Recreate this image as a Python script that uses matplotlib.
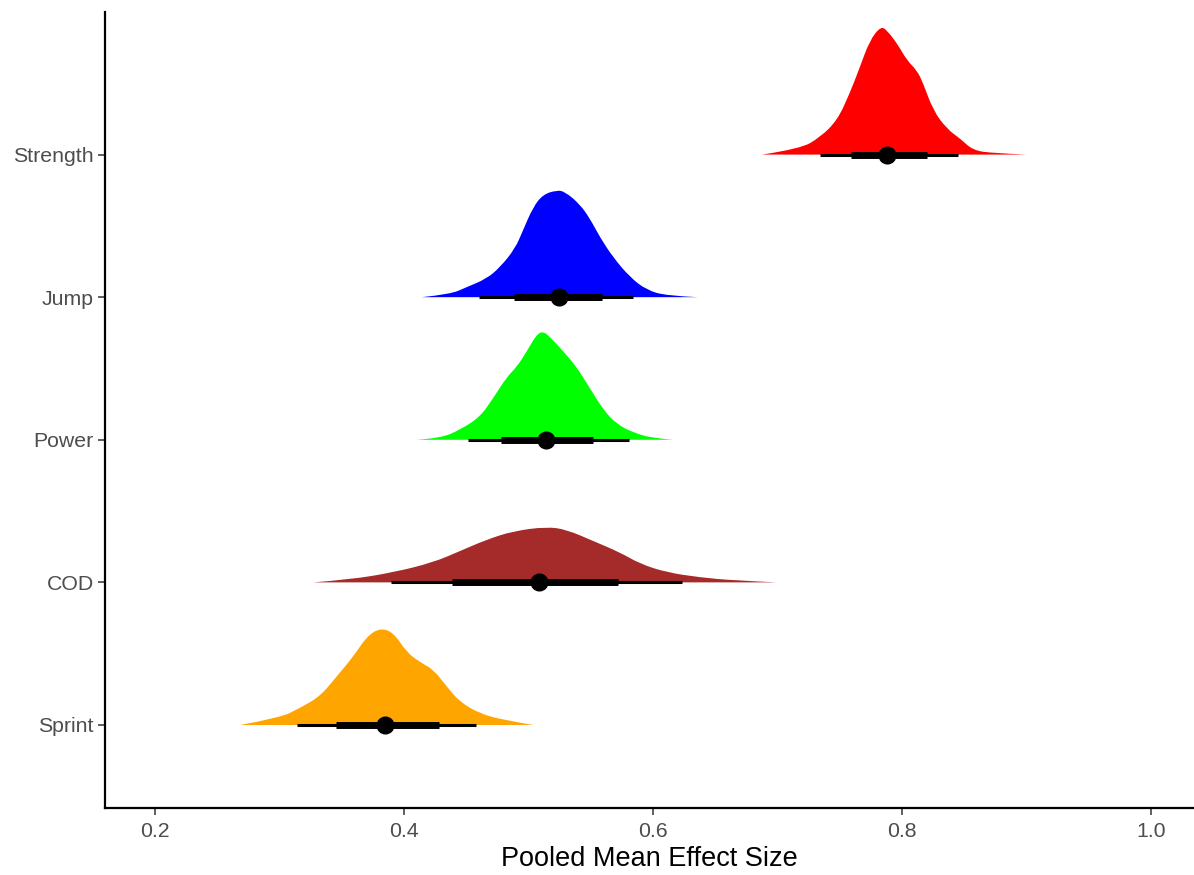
import matplotlib
matplotlib.use("Agg")
import matplotlib.pyplot as plt
from matplotlib.path import Path
from matplotlib.patches import PathPatch

plt.rcParams['font.family'] = ['Liberation Sans', 'DejaVu Sans']

# categories, bottom to top
categorias = ['Sprint', 'COD', 'Power', 'Jump', 'Strength']
cores = ['#FFA500', '#A52A2A', '#00FF00', '#0000FF', '#FF0000']

# densidades (x = effect size, h = altura relativa da meia-violino)
sprint_x = [0.2683, 0.3004, 0.3165, 0.3325, 0.3459, 0.3593, 0.3700, 0.3807, 0.3914,
            0.4021, 0.4129, 0.4235, 0.4343, 0.4450, 0.4610, 0.4798, 0.5038]
sprint_h = [0, 0.05, 0.12, 0.20, 0.34, 0.48, 0.62, 0.68, 0.65,
            0.51, 0.44, 0.39, 0.27, 0.16, 0.08, 0.035, 0]

cod_x = [0.3271, 0.3566, 0.3914, 0.4235, 0.4450, 0.4664, 0.4878, 0.5146,
         0.5306, 0.5520, 0.5735, 0.5896, 0.6110, 0.6378, 0.6645, 0.6994]
cod_h = [0, 0.02, 0.07, 0.14, 0.22, 0.30, 0.36, 0.39,
         0.37, 0.29, 0.21, 0.13, 0.07, 0.035, 0.014, 0]

power_x = [0.4096, 0.4289, 0.4450, 0.4610, 0.4715, 0.4825, 0.4905, 0.4986, 0.5066, 0.5119,
           0.5173, 0.5280, 0.5387, 0.5494, 0.5601, 0.5708, 0.5842, 0.6002, 0.6163]
power_h = [0, 0.01, 0.07, 0.16, 0.29, 0.44, 0.51, 0.62, 0.74, 0.76,
           0.72, 0.62, 0.51, 0.36, 0.21, 0.11, 0.05, 0.01, 0]

jump_x = [0.4142, 0.4369, 0.4503, 0.4664, 0.4771, 0.4892, 0.4956, 0.5036, 0.5116, 0.5227,
          0.5293, 0.5414, 0.5494, 0.5574, 0.5679, 0.5815, 0.5949, 0.6110, 0.6361]
jump_h = [0, 0.02, 0.07, 0.13, 0.21, 0.34, 0.47, 0.63, 0.72, 0.75,
          0.74, 0.65, 0.55, 0.42, 0.28, 0.14, 0.05, 0.01, 0]

strength_x = [0.6876, 0.718, 0.734, 0.748, 0.758, 0.766, 0.774, 0.783, 0.788, 0.796,
              0.804, 0.812, 0.817, 0.825, 0.836, 0.847, 0.857, 0.873, 0.900]
strength_h = [0, 0.04, 0.12, 0.24, 0.43, 0.61, 0.80, 0.90, 0.87, 0.78,
              0.66, 0.59, 0.50, 0.31, 0.18, 0.11, 0.03, 0.01, 0]

dens_x = [sprint_x, cod_x, power_x, jump_x, strength_x]
dens_h = [sprint_h, cod_h, power_h, jump_h, strength_h]

# mediana e intervalos (66% e 95%)
mediana = [0.3845, 0.5084, 0.5141, 0.5247, 0.788]
ic66_lo = [0.3451, 0.4388, 0.4779, 0.4886, 0.759]
ic66_hi = [0.4281, 0.5722, 0.5516, 0.5593, 0.820]
ic95_lo = [0.3143, 0.3893, 0.4512, 0.4600, 0.734]
ic95_hi = [0.4578, 0.6230, 0.5810, 0.5840, 0.845]


def contorno(xs, hs, pos):
    # contorno suave: curvas quadraticas do matplotlib usando os pontos lidos como controles
    pts = [(x, pos + h) for x, h in zip(xs, hs)]
    verts = [pts[0]]
    codes = [Path.MOVETO]
    for k in range(1, len(pts) - 1):
        fim = pts[k + 1] if k == len(pts) - 2 else (
            (pts[k][0] + pts[k + 1][0]) / 2, (pts[k][1] + pts[k + 1][1]) / 2)
        verts += [pts[k], fim]
        codes += [Path.CURVE3, Path.CURVE3]
    verts += [(xs[0], pos), (xs[0], pos)]
    codes += [Path.LINETO, Path.CLOSEPOLY]
    return Path(verts, codes)


fig = plt.figure(figsize=(11.94, 8.75), dpi=100)
ax = fig.add_axes([0.0879, 0.0766, 0.9121, 0.9097])

for i, cat in enumerate(categorias):
    pos = i + 1
    ax.add_patch(PathPatch(contorno(dens_x[i], dens_h[i], pos), facecolor=cores[i],
                           edgecolor='none', zorder=2))
    ax.plot([ic95_lo[i], ic95_hi[i]], [pos, pos], color='black', lw=2.2,
            solid_capstyle='butt', zorder=3)
    ax.plot([ic66_lo[i], ic66_hi[i]], [pos, pos], color='black', lw=5,
            solid_capstyle='butt', zorder=4)
    ax.plot(mediana[i], pos, 'o', color='black', markersize=12, zorder=5)

ax.set_xlim(0.1598, 1.0345)
ax.set_ylim(0.418, 6.0)
ax.set_xticks([0.2, 0.4, 0.6, 0.8, 1.0])
ax.set_xticklabels(['0.2', '0.4', '0.6', '0.8', '1.0'])
ax.set_yticks([1, 2, 3, 4, 5])
ax.set_yticklabels(categorias)
ax.set_xlabel('Pooled Mean Effect Size', fontsize=19.5, color='black', labelpad=4)

ax.tick_params(axis='both', colors='#333333', labelcolor='#4D4D4D', labelsize=15.3,
               length=5, width=1.1)
ax.tick_params(axis='x', pad=5)
ax.tick_params(axis='y', pad=3)
for lado in ['top', 'right']:
    ax.spines[lado].set_visible(False)
for lado in ['left', 'bottom']:
    ax.spines[lado].set_linewidth(1.6)
    ax.spines[lado].set_color('black')

fig.savefig('out.png', dpi=100)
